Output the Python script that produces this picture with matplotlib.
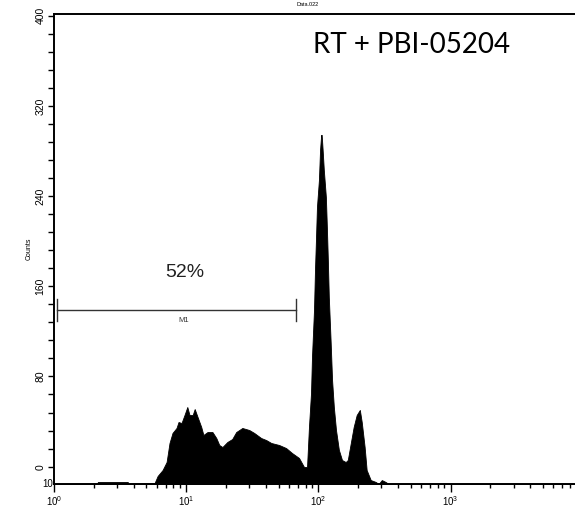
import matplotlib
matplotlib.use("Agg")
import matplotlib.pyplot as plt
import numpy as np

# FL2-H histogram (intensity, counts above baseline)
fl2 = [1.0, 2.11, 2.15, 3.61, 3.67, 5.77, 6.08, 6.63, 7.11, 7.48, 7.88, 8.45, 8.75,
       9.22, 9.71, 10.2, 10.6, 11.2, 11.6, 12.2, 13.0, 13.5, 14.5, 15.8, 16.9, 17.8,
       18.8, 20.5, 22.3, 23.9, 26.6, 30.0, 32.7, 36.9, 40.3, 44.0, 50.5, 57.0, 63.2,
       71.4, 77.9, 82.1, 84.9, 88.0, 89.5, 92.7, 94.3, 95.9, 97.6, 101, 103, 105, 106,
       108, 110, 114, 116, 118, 120, 124, 127, 131, 136, 143, 151, 161, 167, 176, 185,
       195, 206, 213, 224, 232, 249, 272, 286, 302, 323, 340, 10000]
counts = [0, 0, 1.8, 1.8, 0, 0.9, 7.1, 12.4, 19.5, 36.4, 45.3, 49.7, 55.0,
          54.1, 61.2, 68.3, 61.2, 61.2, 66.5, 59.4, 50.6, 43.5, 46.1, 46.1, 40.8, 34.6,
          32.8, 37.3, 39.9, 46.1, 49.7, 47.9, 45.3, 40.8, 39.0, 36.4, 34.6, 31.9, 27.5,
          23.1, 15.1, 15.1, 50.6, 80.7, 112.7, 154.4, 189.9, 216.5, 245.8, 269.7, 296.4, 309.7, 309.7,
          294.6, 278.6, 254.7, 228.0, 198.8, 165.9, 125.1, 92.3, 68.3, 47.9, 30.2, 21.3, 19.5, 21.3, 36.4, 50.6,
          61.2, 65.7, 54.9, 32.8, 12.4, 3.5, 1.8, 0, 3.5, 1.8, 0, 0]

yticks = [0, 80, 160, 240, 320, 400]
gate_lo, gate_hi, gate_y = 1.05, 67.8, 139
gate_pct = "52%"
gate_name = "M1"
sample = "RT + PBI-05204"

plt.rcParams['font.family'] = ['Liberation Sans', 'DejaVu Sans']

fig = plt.figure(figsize=(5.75, 5.08), dpi=100)
ax = fig.add_axes([54 / 575, 24 / 508, 528.7 / 575, 470.5 / 508])

ymin, ymax = -15.4, 402
ax.fill_between(fl2, ymin, np.array(counts) + ymin, color='black', lw=0.6, edgecolor='black')

ax.set_xscale('log')
ax.set_xlim(1, 10000)
ax.set_ylim(ymin, ymax)

ax.set_yticks(yticks)
ax.set_yticks(np.arange(0, 401, 16), minor=True)
ax.tick_params(axis='y', which='major', length=4, width=1, labelsize=7.5, pad=2)
ax.tick_params(axis='y', which='minor', length=4, width=1)
for lbl in ax.get_yticklabels():
    lbl.set_rotation(90)
    lbl.set_va('center')
ax.tick_params(axis='x', which='major', length=6, width=1, labelsize=7, pad=1)
ax.tick_params(axis='x', which='minor', length=3, width=1)

for s in ['top', 'left', 'bottom', 'right']:
    ax.spines[s].set_linewidth(1.4)

ax.set_ylabel("Counts", fontsize=5, labelpad=2)
ax.set_xlabel("FL2-H", fontsize=6, labelpad=5)
fig.text(308 / 575, 1 - 5 / 508, "Data.022", fontsize=4, ha='center', va='center')
# leftover channel label next to the origin
fig.text(53 / 575, 1 - 484 / 508, "10", fontsize=7, ha='right', va='center')

# marker M1
ax.plot([gate_lo, gate_hi], [gate_y, gate_y], color='#333333', lw=1)
ax.plot([gate_lo, gate_lo], [gate_y - 10, gate_y + 10], color='#333333', lw=1)
ax.plot([gate_hi, gate_hi], [gate_y - 10, gate_y + 10], color='#333333', lw=1)
ax.text(9.5, gate_y - 9, gate_name, fontsize=5.5, ha='center', va='center', color='#333333')
ax.text(9.7, 172, gate_pct, fontsize=14, ha='center', va='center', color='#222222')

fig.text(412 / 575, 1 - 45 / 508, sample, fontsize=20, family='Lato', ha='center', va='center')

fig.savefig("out.png", dpi=100)
